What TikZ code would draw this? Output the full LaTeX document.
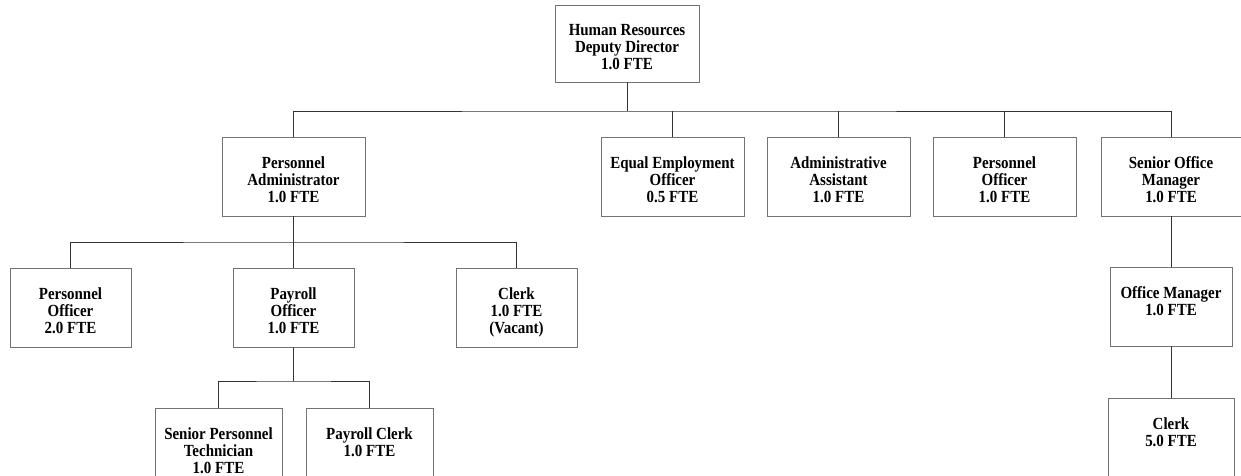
\documentclass[tikz,border=0pt]{standalone}
\usepackage{fontspec}
\setmainfont{Liberation Serif}[FakeStretch=0.88]
\tikzset{
  orgbox/.style={draw=black!55, line width=0.9pt, fill=white, inner sep=0pt},
  orglabel/.style={font=\bfseries\fontsize{17}{17}\selectfont, align=center, inner sep=0pt, anchor=north},
  link/.style={draw=black!80, line width=0.9pt}
}
% \orgunit{name}{x1}{y1}{x2}{y2}{text}: box with text set near its top
\newcommand{\orgunit}[6]{%
  \node[orgbox, minimum width={(#4-#2)*1pt}, minimum height={(#5-#3)*1pt}]
    (#1) at ({(#2+#4)/2},{(#3+#5)/2}) {};
  \node[orglabel] (#1-t) at ([yshift=-19.5pt]#1.north) {#6};
}
\begin{document}
\begin{tikzpicture}[x=1pt, y=-1pt]
\useasboundingbox (0,0) rectangle (1241,476);

% top level
\orgunit{hr}{555}{5}{699}{82}{Human Resources\\Deputy Director\\1.0 FTE}

% second level
\orgunit{pa}{222}{137}{365}{216}{Personnel\\Administrator\\1.0 FTE}
\orgunit{eeo}{601}{137}{744}{216}{Equal Employment\\Officer\\0.5 FTE}
\orgunit{aa}{767}{137}{910}{216}{Administrative\\Assistant\\1.0 FTE}
\orgunit{poa}{933}{137}{1076}{216}{Personnel\\Officer\\1.0 FTE}
\orgunit{som}{1101}{137}{1241}{216}{Senior Office\\Manager\\1.0 FTE}

% third level
\orgunit{pob}{10}{268}{131}{347}{Personnel\\Officer\\2.0 FTE}
\orgunit{pyo}{233}{268}{354}{347}{Payroll\\Officer\\1.0 FTE}
\orgunit{clka}{456}{268}{577}{347}{Clerk\\1.0 FTE\\(Vacant)}
\orgunit{om}{1110}{267}{1232}{346}{Office Manager\\1.0 FTE}

% fourth level
\orgunit{spt}{155}{408}{282}{482}{Senior Personnel\\Technician\\1.0 FTE}
\orgunit{pc}{306}{408}{433}{482}{Payroll Clerk\\1.0 FTE}
\orgunit{clkb}{1108}{398}{1234}{482}{Clerk\\5.0 FTE}

% bus under the deputy director
\coordinate (busa) at (hr.south |- 0,111);
\draw[link] (hr.south) -- (busa);
\draw[link] (pa.north) |- (busa) -| (som.north);
\foreach \n in {eeo,aa,poa} \draw[link] (\n.north) -- (\n.north |- busa);

% bus under the personnel administrator
\coordinate (busb) at (pa.south |- 0,242);
\draw[link] (pa.south) -- (busb);
\draw[link] (pob.north) |- (busb) -| (clka.north);
\draw[link] (pyo.north) -- (pyo.north |- busb);

% bus under the payroll officer
\coordinate (busc) at (pyo.south |- 0,381);
\draw[link] (pyo.south) -- (busc);
\draw[link] (spt.north) |- (busc) -| (pc.north);

% office manager chain
\draw[link] (som.south) -- (om.north);
\draw[link] (om.south) -- (clkb.north);
\end{tikzpicture}
\end{document}
